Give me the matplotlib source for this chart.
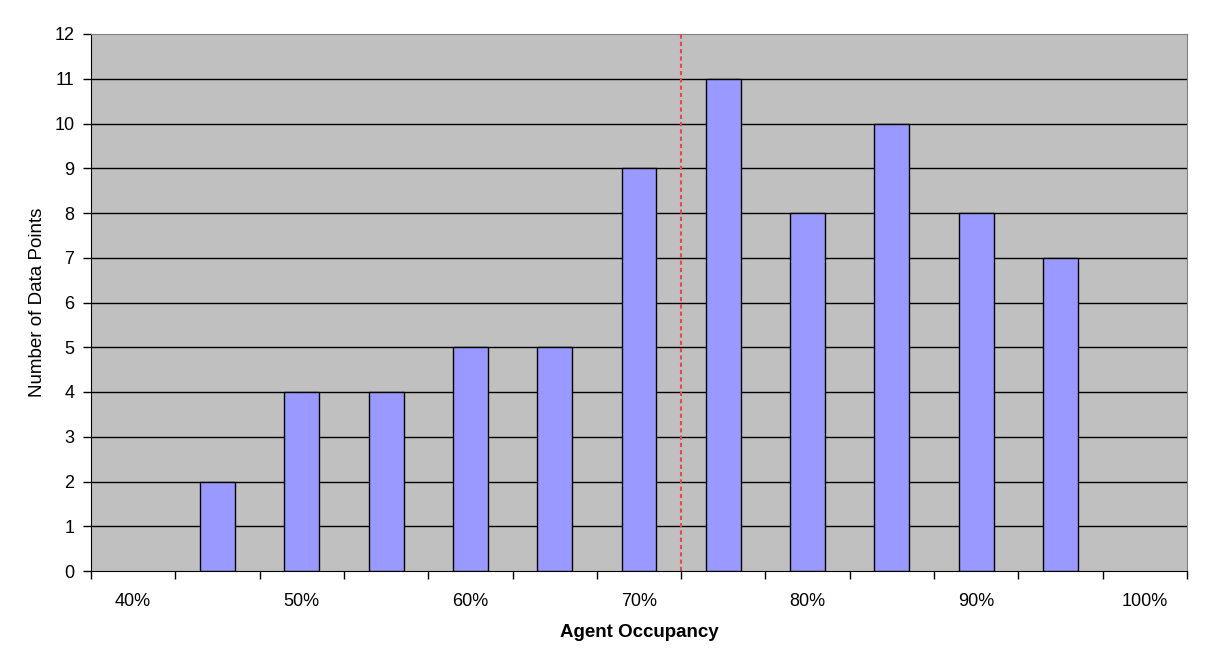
import numpy as np
import matplotlib.pyplot as plt

plt.rcParams['font.family'] = ['Liberation Sans', 'DejaVu Sans']

# occupancy bins (%) and counts
occupancy = [40, 45, 50, 55, 60, 65, 70, 75, 80, 85, 90, 95, 100]
counts = [0, 2, 4, 4, 5, 5, 9, 11, 8, 10, 8, 7, 0]
shown_labels = ['40%', '50%', '60%', '70%', '80%', '90%', '100%']
marker_occupancy = 72.5  # red dashed reference line

x = np.arange(len(occupancy))
counts = np.array(counts)
nz = counts > 0

fig = plt.figure(figsize=(12.06, 6.67), dpi=100)
ax = fig.add_axes([91/1206, 1 - 571/667, (1187-91)/1206, (571-34)/667])
ax.set_facecolor('#C0C0C0')

ax.bar(x[nz], counts[nz], width=0.415, color='#9999FF', edgecolor='black', linewidth=1, zorder=3)

# horizontal gridlines
for yv in range(1, 12):
    ax.axhline(yv, color='black', linewidth=1, zorder=1)

# reference line
step = occupancy[1] - occupancy[0]
ax.axvline((marker_occupancy - occupancy[0]) / step, color='#E8474C', linewidth=1.5,
           linestyle=(0, (2, 1.5)), zorder=4)

ax.set_xlim(-0.5, len(occupancy) - 0.5)
ax.set_ylim(0, 12)
ax.set_yticks(range(0, 13))

# category boundary ticks, labels every other category
ax.set_xticks(np.arange(-0.5, len(occupancy), 1))
ax.set_xticklabels([])
ax.set_xticks(x[::2], minor=True)
ax.set_xticklabels(shown_labels, minor=True)
ax.tick_params(axis='x', which='major', direction='out', length=6, width=1)
ax.tick_params(axis='x', which='minor', length=0, pad=16, labelsize=13)
ax.tick_params(axis='y', direction='out', length=6, width=1, labelsize=13, pad=6)

for side in ['top', 'right']:
    ax.spines[side].set_color('#808080')
for side in ['left', 'bottom']:
    ax.spines[side].set_color('black')

ax.set_xlabel('Agent Occupancy', fontsize=13.5, fontweight='bold', labelpad=10)
ax.set_ylabel('Number of Data Points', fontsize=13.5, labelpad=6)

plt.savefig('out.png', dpi=100)
